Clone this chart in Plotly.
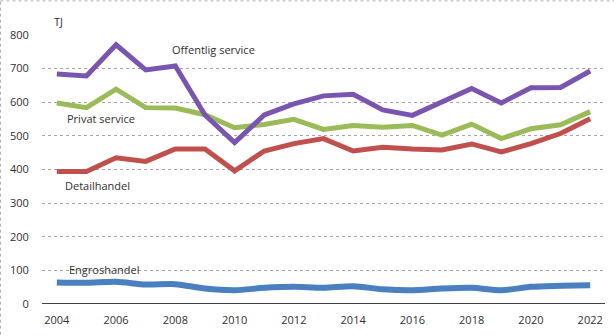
import plotly.graph_objects as go

years = list(range(2004, 2023))
offentlig = [684, 678, 771, 696, 708, 562, 480, 562, 595, 619, 624, 577, 561, 600, 641, 598, 643, 644, 693]
privat = [598, 584, 639, 584, 583, 563, 524, 534, 549, 519, 531, 526, 531, 502, 535, 492, 521, 533, 572]
detail = [394, 394, 435, 424, 461, 461, 396, 455, 477, 492, 455, 466, 461, 458, 476, 452, 477, 507, 551]
engros = [64, 63, 66, 58, 59, 46, 41, 48, 51, 48, 53, 44, 41, 46, 48, 41, 51, 54, 56]
y_ticks = [0, 100, 200, 300, 400, 500, 600, 700, 800]

FONT = "Open Sans"
fig = go.Figure()
fig.add_trace(go.Scatter(x=years, y=engros, mode="lines", line=dict(color="#4a7fc0", width=6, shape="spline", smoothing=0.8)))
fig.add_trace(go.Scatter(x=years, y=detail, mode="lines", line=dict(color="#c0504d", width=5)))
fig.add_trace(go.Scatter(x=years, y=privat, mode="lines", line=dict(color="#9bbb59", width=5)))
fig.add_trace(go.Scatter(x=years, y=offentlig, mode="lines", line=dict(color="#7a55b0", width=5)))

L, R, T, B = 42, 9, 35, 29
W, H = 614, 336
pw, ph = W - L - R, H - T - B

fig.update_layout(
    width=W, height=H,
    margin=dict(l=L, r=R, t=T, b=B),
    paper_bgcolor="white", plot_bgcolor="white",
    showlegend=False,
    font=dict(family=FONT, size=11, color="#303030"),
    xaxis=dict(range=[2003.5, 2022.5], tickmode="array", tickvals=years[::2],
               ticktext=[str(y) for y in years[::2]], showgrid=False, zeroline=False,
               ticks="outside", ticklen=6, tickcolor="rgba(0,0,0,0)",
               showline=False, fixedrange=True),
    yaxis=dict(range=[0, 800], tickvals=y_ticks, showgrid=True, gridcolor="#a6a6a6",
               griddash="dot", gridwidth=1, zeroline=False,
               ticks="outside", ticklen=10, tickcolor="rgba(0,0,0,0)", fixedrange=True),
)
# x axis baseline
fig.add_shape(type="line", xref="paper", yref="y", x0=0, x1=1, y0=0, y1=0,
              line=dict(color="#404040", width=2))
# outer dotted border (left and top only visible)
bx0 = -(L - 0.5) / pw
by1 = 1 + (T - 0.5) / ph
fig.add_shape(type="line", xref="paper", yref="paper", x0=bx0, x1=bx0, y0=-(B + 2) / ph, y1=by1,
              line=dict(color="#b0b0b0", width=1, dash="dot"))
fig.add_shape(type="line", xref="paper", yref="paper", x0=bx0, x1=1 + (R + 2) / pw, y0=by1, y1=by1,
              line=dict(color="#b0b0b0", width=1, dash="dot"))

def ann(text, px, py):
    fig.add_annotation(text=text, xref="paper", yref="paper",
                       x=(px - L) / pw, y=(H - B - py) / ph,
                       showarrow=False, xanchor="center", yanchor="middle",
                       font=dict(family=FONT, size=11, color="#303030"))

ann("TJ", 58, 21)
ann("Offentlig service", 213, 50)
ann("Privat service", 101, 119)
ann("Detailhandel", 97, 187)
ann("Engroshandel", 104, 272)

fig.write_html("out.html")
